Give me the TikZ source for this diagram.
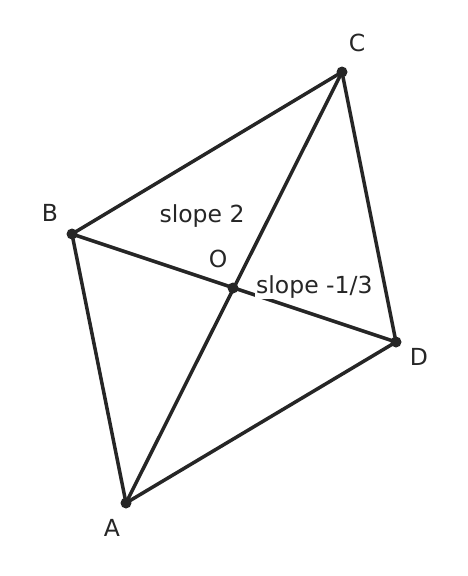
\documentclass[tikz,border=0pt]{standalone}
\usepackage{fontspec}
\setmainfont{DejaVu Sans}
\definecolor{ink}{HTML}{262626}
\tikzset{
  edge/.style={draw=ink, line width=3.5pt, line cap=round},
  pt/.style={circle, fill=ink, inner sep=0pt, minimum size=11pt},
  lbl/.style={text=ink, font=\fontsize{23.5}{23.5}\selectfont, inner sep=1pt},
}
\begin{document}
\begin{tikzpicture}[x=1pt,y=-1pt]
\useasboundingbox (0,0) rectangle (468,576);
\coordinate (A) at (126,503);
\coordinate (B) at (72,234);
\coordinate (C) at (342,72);
\coordinate (D) at (396,342);
\coordinate (O) at (233,288);
\draw[edge] (A) -- (B) -- (C) -- (D) -- cycle;
\draw[edge] (A) -- (C);
\draw[edge] (B) -- (D);
\foreach \p in {A,B,C,D,O} \node[pt] (d\p) at (\p) {};
\node[lbl] (lA) at (112,528) {A};
\node[lbl] (lB) at (50,213) {B};
\node[lbl] (lC) at (357,43) {C};
\node[lbl] (lD) at (419,357) {D};
\node[lbl] (lO) at (218,259) {O};
\node[lbl] (s2) at (202,216) {slope 2};
\node[lbl, fill=white, anchor=west] (s3) at (255,287) {slope -1/3};
\end{tikzpicture}
\end{document}
